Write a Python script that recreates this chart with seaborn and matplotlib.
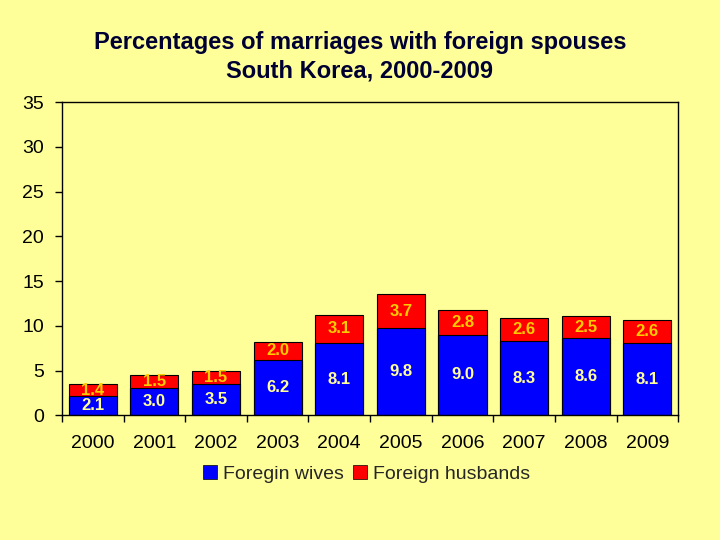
import matplotlib

matplotlib.use("Agg")
import matplotlib.pyplot as plt
import numpy as np
import pandas as pd
import seaborn as sns
from matplotlib.patches import Patch

# Data
years = ["2000", "2001", "2002", "2003", "2004", "2005", "2006", "2007", "2008", "2009"]
wives = [2.1, 3.0, 3.5, 6.2, 8.1, 9.8, 9.0, 8.3, 8.6, 8.1]
husbands = [1.4, 1.5, 1.5, 2.0, 3.1, 3.7, 2.8, 2.6, 2.5, 2.6]

BG = "#FFFF99"
BLUE = "#0000FF"
RED = "#FF0000"

sns.set_theme(style="ticks")
plt.rcParams["font.family"] = ["Liberation Sans", "DejaVu Sans"]

df = pd.DataFrame({"year": years, "wives": wives, "husbands": husbands})
df["total"] = df["wives"] + df["husbands"]

fig = plt.figure(figsize=(7.2, 5.4), dpi=100, facecolor=BG)
ax = fig.add_axes([0.086, 0.231, 0.856, 0.58])
ax.set_facecolor(BG)

# stacked bars: total in red, wives on top in blue
sns.barplot(data=df, x="year", y="total", color=RED, saturation=1, width=0.78,
            edgecolor="black", linewidth=0.8, ax=ax)
sns.barplot(data=df, x="year", y="wives", color=BLUE, saturation=1, width=0.78,
            edgecolor="black", linewidth=0.8, ax=ax)

for i, (w, h) in enumerate(zip(wives, husbands)):
    ax.text(i, w / 2, f"{w:.1f}", ha="center", va="center", fontsize=12,
            fontweight="bold", color="#FFFF99")
    ax.text(i, w + h / 2, f"{h:.1f}", ha="center", va="center", fontsize=12,
            fontweight="bold", color="#FFCC00")

ax.set_ylim(0, 35)
ax.set_xlim(-0.5, len(years) - 0.5)
ax.set_yticks(np.arange(0, 36, 5))
ax.set_xlabel("")
ax.set_ylabel("")
for s in ax.spines.values():
    s.set_visible(True)
    s.set_color("black")
    s.set_linewidth(1.0)

ax.tick_params(axis="y", labelsize=14, length=5, width=1, color="black",
               labelcolor="black", pad=8)
ax.tick_params(axis="x", which="major", labelsize=14, length=0, pad=14,
               labelcolor="black")
ax.set_xticks(np.arange(-0.5, len(years), 1), minor=True)
ax.tick_params(axis="x", which="minor", length=5, width=1, color="black")

fig.text(0.5, 0.895, "Percentages of marriages with foreign spouses\nSouth Korea, 2000-2009",
         ha="center", va="center", fontsize=17, fontweight="bold", color="#000033",
         linespacing=1.27)

handles = [Patch(facecolor=BLUE, edgecolor="black", linewidth=0.5, label="Foregin wives"),
           Patch(facecolor=RED, edgecolor="black", linewidth=0.5, label="Foreign husbands")]
fig.legend(handles=handles, loc="center", bbox_to_anchor=(0.509, 0.122), ncol=2,
           frameon=False, fontsize=14, handlelength=0.7, handleheight=0.7,
           handletextpad=0.3, columnspacing=0.5)

fig.savefig("out.png", dpi=100, facecolor=BG)
